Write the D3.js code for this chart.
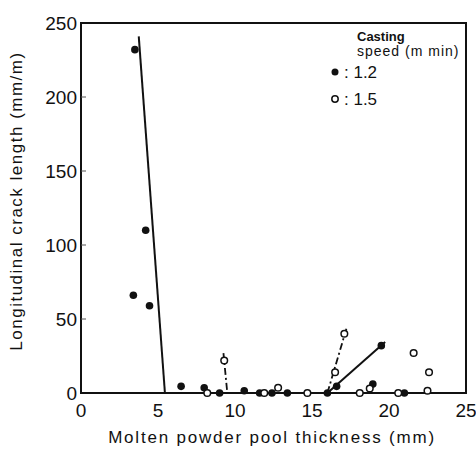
<!DOCTYPE html>
<html lang="en">
<head>
<meta charset="UTF-8">
<title>Longitudinal crack length</title>
<script src="https://d3js.org/d3.v7.min.js"></script>
<style>
  body { margin: 0; background: #fff; }
  text { font-family: "Liberation Sans", Arial, sans-serif; fill: #111; }
</style>
</head>
<body>
<div id="chart"></div>
<script>
// casting speed 1.2 m/min (filled dots)
const speed12 = [
  [3.5, 232], [4.2, 110], [3.4, 66], [4.45, 59], [6.5, 4.5], [8.0, 3.5],
  [9.0, 0], [10.6, 1.5], [11.6, 0], [12.4, 0], [13.4, 0], [16.0, 0],
  [16.6, 4.5], [19.5, 32], [18.95, 6], [21.0, 0]
];
// casting speed 1.5 m/min (open circles)
const speed15 = [
  [8.2, 0], [9.3, 22], [11.9, 0], [12.8, 3.5], [14.7, 0], [16.5, 14],
  [17.1, 40], [18.1, 0], [18.75, 3], [20.6, 0], [21.6, 27], [22.6, 14], [22.5, 1.5]
];
// trend lines drawn by hand in the original
const solidLines = [
  [[3.75, 241], [5.45, 0]],
  [[16.0, 0], [19.75, 34.5]]
];
const dashLines = [
  [[16.0, 0], [17.25, 44]],
  [[9.25, 27], [9.5, 0]]
];
const xTicks = [0, 5, 10, 15, 20, 25];
const yTicks = [0, 50, 100, 150, 200, 250];

const width = 476, height = 455;
const svg = d3.select("#chart").append("svg")
  .attr("width", width).attr("height", height);

const x = d3.scaleLinear().domain([0, 25]).range([81, 466]);
const y = d3.scaleLinear().domain([0, 250]).range([393, 23]);

// frame
svg.append("rect")
  .attr("x", x(0)).attr("y", y(250))
  .attr("width", x(25) - x(0)).attr("height", y(0) - y(250))
  .attr("fill", "none").attr("stroke", "#111").attr("stroke-width", 2);

// y ticks (small, inward)
svg.selectAll(".ytick").data(yTicks.slice(1, -1)).enter().append("line")
  .attr("x1", x(0)).attr("x2", x(0) + 5)
  .attr("y1", d => y(d)).attr("y2", d => y(d))
  .attr("stroke", "#555").attr("stroke-width", 1);

svg.selectAll(".ylab").data(yTicks).enter().append("text")
  .attr("x", 77).attr("y", d => y(d)).attr("dy", "0.36em")
  .attr("text-anchor", "end").attr("font-size", 19)
  .text(d => d);

svg.selectAll(".xlab").data(xTicks).enter().append("text")
  .attr("x", d => x(d)).attr("y", 417)
  .attr("text-anchor", "middle").attr("font-size", 19)
  .text(d => d);

// axis titles
svg.append("text")
  .attr("transform", "translate(22,201) rotate(-90)")
  .attr("text-anchor", "middle").attr("font-size", 17)
  .attr("letter-spacing", 1.5)
  .text("Longitudinal crack length (mm/m)");

svg.append("text")
  .attr("x", 272).attr("y", 443)
  .attr("text-anchor", "middle").attr("font-size", 17)
  .attr("letter-spacing", 1.8)
  .text("Molten powder pool thickness (mm)");

// lines
const line = d3.line().x(d => x(d[0])).y(d => y(d[1]));
svg.selectAll(".solid").data(solidLines).enter().append("path")
  .attr("d", line).attr("fill", "none")
  .attr("stroke", "#111").attr("stroke-width", 2);
svg.selectAll(".dash").data(dashLines).enter().append("path")
  .attr("d", line).attr("fill", "none")
  .attr("stroke", "#111").attr("stroke-width", 1.8)
  .attr("stroke-dasharray", "7,3,2,3");

// points
svg.selectAll(".p12").data(speed12).enter().append("circle")
  .attr("cx", d => x(d[0])).attr("cy", d => y(d[1])).attr("r", 3.8)
  .attr("fill", "#111");
svg.selectAll(".p15").data(speed15).enter().append("circle")
  .attr("cx", d => x(d[0])).attr("cy", d => y(d[1])).attr("r", 3.3)
  .attr("fill", "#fff").attr("stroke", "#111").attr("stroke-width", 1.5);

// legend
const lg = svg.append("g");
lg.append("text").attr("x", 357).attr("y", 41).attr("font-size", 13)
  .attr("font-weight", "bold").text("Casting");
lg.append("text").attr("x", 357).attr("y", 56).attr("font-size", 14)
  .attr("letter-spacing", 1).text("speed (m min)");
lg.append("circle").attr("cx", 335).attr("cy", 72).attr("r", 3.5).attr("fill", "#111");
lg.append("text").attr("x", 344).attr("y", 78).attr("font-size", 17).text(": 1.2");
lg.append("circle").attr("cx", 335).attr("cy", 99).attr("r", 3.2)
  .attr("fill", "#fff").attr("stroke", "#111").attr("stroke-width", 1.5);
lg.append("text").attr("x", 344).attr("y", 105).attr("font-size", 17).text(": 1.5");
</script>
</body>
</html>
